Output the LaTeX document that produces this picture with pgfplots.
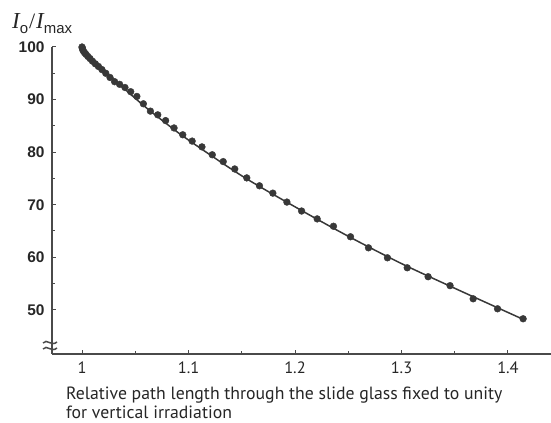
\documentclass[border=0pt]{standalone}
\usepackage{fontspec}
\setmainfont{Liberation Sans}
\newfontfamily\ptsans{PT Sans}
\newfontfamily\serif{Liberation Serif}
\usepackage{pgfplots}
\pgfplotsset{compat=1.18}
\definecolor{dot}{HTML}{383838}
\definecolor{ax}{HTML}{4A4A4A}
\begin{document}
\begin{tikzpicture}
\path[use as bounding box] (0,0) rectangle (551bp,423bp);
\begin{axis}[
  at={(52bp,69bp)}, anchor=south west,
  scale only axis, width=499bp, height=307bp,
  xmin=0.9718, xmax=1.4404, ymin=41.6, ymax=100,
  axis lines=left, axis line style={-, color=ax, line width=1.3bp},
  tick align=inside, tick style={color=ax, line width=1bp},
  major tick length=4bp, minor tick length=2.5bp,
  xtick={1,1.1,1.2,1.3,1.4}, xticklabels={1,1.1,1.2,1.3,1.4},
  minor xtick={1.05,1.15,1.25,1.35},
  ytick={50,60,70,80,90,100},
  minor ytick={55,65,75,85,95},
  /pgf/number format/assume math mode=true,
  xticklabel style={font=\ptsans\fontsize{16.5}{16.5}\selectfont, yshift=-4bp, text=black!85},
  yticklabel style={font=\fontsize{15.5}{15.5}\selectfont\bfseries, xshift=-4bp, text=black!85},
  clip=false,
]
\addplot[dot, line width=1.5bp, smooth, no marks] coordinates {
(1.000,100.0) (1.010,97.6) (1.020,95.6) (1.040,92.0) (1.060,88.5) (1.080,85.3)
(1.100,82.3) (1.150,75.5) (1.200,69.6) (1.250,64.0) (1.300,58.8) (1.350,54.1)
(1.400,49.5) (1.4142,48.2)
};
\addplot[only marks, mark=*, mark size=3.4bp, dot, mark options={fill=dot, draw=dot}] coordinates {
(1.0000,100.0) (1.0002,99.8) (1.0006,99.5) (1.0014,99.2) (1.0024,98.9)
(1.0038,98.6) (1.0055,98.2) (1.0075,97.8) (1.0098,97.3) (1.0125,96.8)
(1.0154,96.3) (1.0187,95.7) (1.0223,95.0) (1.0263,94.2) (1.0306,93.4)
(1.0353,92.9) (1.0403,92.3) (1.0457,91.5) (1.0515,90.6) (1.0576,89.2)
(1.0642,87.8) (1.0711,87.1) (1.0785,86.0) (1.0864,84.6) (1.0946,83.3)
(1.1034,82.1) (1.1126,81.0) (1.1223,79.5) (1.1326,78.2) (1.1434,76.8)
(1.1547,75.1) (1.1666,73.6) (1.1792,72.2) (1.1924,70.5) (1.2062,68.8)
(1.2208,67.3) (1.2361,65.9) (1.2521,63.9) (1.2690,61.8) (1.2868,59.9)
(1.3054,58.0) (1.3250,56.3) (1.3456,54.6) (1.3673,52.1) (1.3902,50.2)
(1.4142,48.3)
};
\end{axis}
% axis break mark
\draw[ax, line width=1.5bp] (43bp,80bp) .. controls (47bp,85bp) and (51bp,76bp) .. (57bp,81bp);
\draw[ax, line width=1.5bp] (43bp,74bp) .. controls (47bp,79bp) and (51bp,70bp) .. (57bp,75bp);
% y label
\node[anchor=base west, inner sep=0pt, text=black!85] at (12bp,394bp)
  {{\serif\itshape\fontsize{23}{23}\selectfont I}\raisebox{-5bp}{\fontsize{15}{15}\selectfont o}\kern1bp{\serif\fontsize{22}{22}\selectfont /}\kern1bp{\serif\itshape\fontsize{23}{23}\selectfont I}\raisebox{-5bp}{\fontsize{15}{15}\selectfont max}};
% x label
\node[anchor=base west, inner sep=0pt, font=\ptsans\fontsize{17.8}{17.8}\selectfont, text=black!85] at (66bp,24bp)
  {Relative path length through the slide glass fixed to unity};
\node[anchor=base west, inner sep=0pt, font=\ptsans\fontsize{17.8}{17.8}\selectfont, text=black!85] at (66bp,5bp)
  {for vertical irradiation};
\end{tikzpicture}
\end{document}
